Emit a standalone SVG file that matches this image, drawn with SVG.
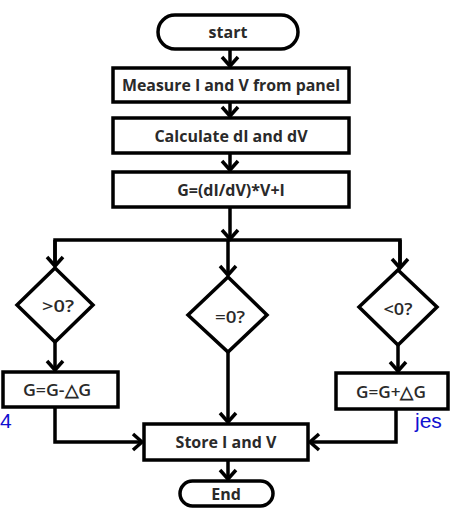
<svg xmlns="http://www.w3.org/2000/svg" width="452" height="509" viewBox="0 0 452 509">
<style>
.shape{fill:#fff;stroke:#000;stroke-width:3.5}
.lbl{font-family:"Open Sans","Liberation Sans",sans-serif;font-weight:700;font-size:16px;fill:#2a2a2a;text-anchor:middle;dominant-baseline:central}
.dl{font-family:"Open Sans","Liberation Sans",sans-serif;font-weight:600;font-size:17px;fill:#2a2a2a;text-anchor:middle;dominant-baseline:central}
.con{fill:none;stroke:#000;stroke-width:3.5;stroke-linejoin:miter}
.blue{font-family:"Liberation Sans",Arial,sans-serif;font-size:21px;fill:#1010d0}
</style>
<defs>
<marker id="ah" markerUnits="userSpaceOnUse" markerWidth="20" markerHeight="20" viewBox="-12 -10 14 20" refX="0" refY="0" orient="auto">
<path d="M-9,-8 L0,0 L-9,8" fill="none" stroke="#000" stroke-width="3.5"/>
</marker>
</defs>
<rect width="452" height="509" fill="#fff"/>
<g id="start"><rect class="shape" x="158" y="15" width="140" height="34" rx="17"/><text class="lbl" x="228" y="32">start</text></g>
<g id="measure"><rect class="shape" x="113" y="68" width="236" height="34"/><text class="lbl" x="231" y="85" textLength="218" lengthAdjust="spacingAndGlyphs">Measure I and V from panel</text></g>
<g id="calc"><rect class="shape" x="113" y="118" width="236" height="35"/><text class="lbl" x="231" y="135.5">Calculate dI and dV</text></g>
<g id="g"><rect class="shape" x="113" y="172" width="236" height="35"/><text class="lbl" x="231" y="189.5">G=(dI/dV)*V+I</text></g>
<g id="gt"><polygon class="shape" points="55,268 93,305 55,342 17,305"/><text class="dl" x="58" y="305" textLength="32" lengthAdjust="spacingAndGlyphs">&gt;0?</text></g>
<g id="eq"><polygon class="shape" points="228,277 267,315 228,352 188,315"/><text class="dl" x="230" y="316" textLength="30" lengthAdjust="spacingAndGlyphs">=0?</text></g>
<g id="lt"><polygon class="shape" points="398,270 437,307 398,345 359,307"/><text class="dl" x="398" y="308" textLength="29" lengthAdjust="spacingAndGlyphs">&lt;0?</text></g>
<g id="dec"><rect class="shape" x="3" y="372" width="115" height="35"/><text class="dl" x="57" y="389.5" textLength="68" lengthAdjust="spacingAndGlyphs">G=G-△G</text></g>
<g id="inc"><rect class="shape" x="336" y="373" width="112" height="36"/><text class="dl" x="391" y="391" textLength="70" lengthAdjust="spacingAndGlyphs">G=G+△G</text></g>
<g id="store"><rect class="shape" x="144" y="424" width="164" height="36"/><text class="lbl" x="226" y="442">Store I and V</text></g>
<g id="end"><rect class="shape" x="180" y="481" width="93" height="25" rx="12.5"/><text class="lbl" x="226" y="493.5">End</text></g>
<g id="connectors">
<path class="con" d="M230,49 V66" marker-end="url(#ah)"/>
<path class="con" d="M230,102 V116" marker-end="url(#ah)"/>
<path class="con" d="M230,153 V170" marker-end="url(#ah)"/>
<path class="con" d="M230,207 V239" marker-end="url(#ah)"/>
<path class="con" d="M55,266 V240 H400 V268"/>
<path class="con" d="M55,240 V266" marker-end="url(#ah)"/>
<path class="con" d="M228,240 V275" marker-end="url(#ah)"/>
<path class="con" d="M400,240 V268" marker-end="url(#ah)"/>
<path class="con" d="M55,342 V370" marker-end="url(#ah)"/>
<path class="con" d="M398,345 V371" marker-end="url(#ah)"/>
<path class="con" d="M228,352 V422" marker-end="url(#ah)"/>
<path class="con" d="M55,407 V442 H142" marker-end="url(#ah)"/>
<path class="con" d="M396,409 V442 H310" marker-end="url(#ah)"/>
<path class="con" d="M228,460 V479" marker-end="url(#ah)"/>
</g>
<text class="blue" x="0" y="428">4</text>
<text class="blue" x="415" y="428">jes</text>
</svg>
